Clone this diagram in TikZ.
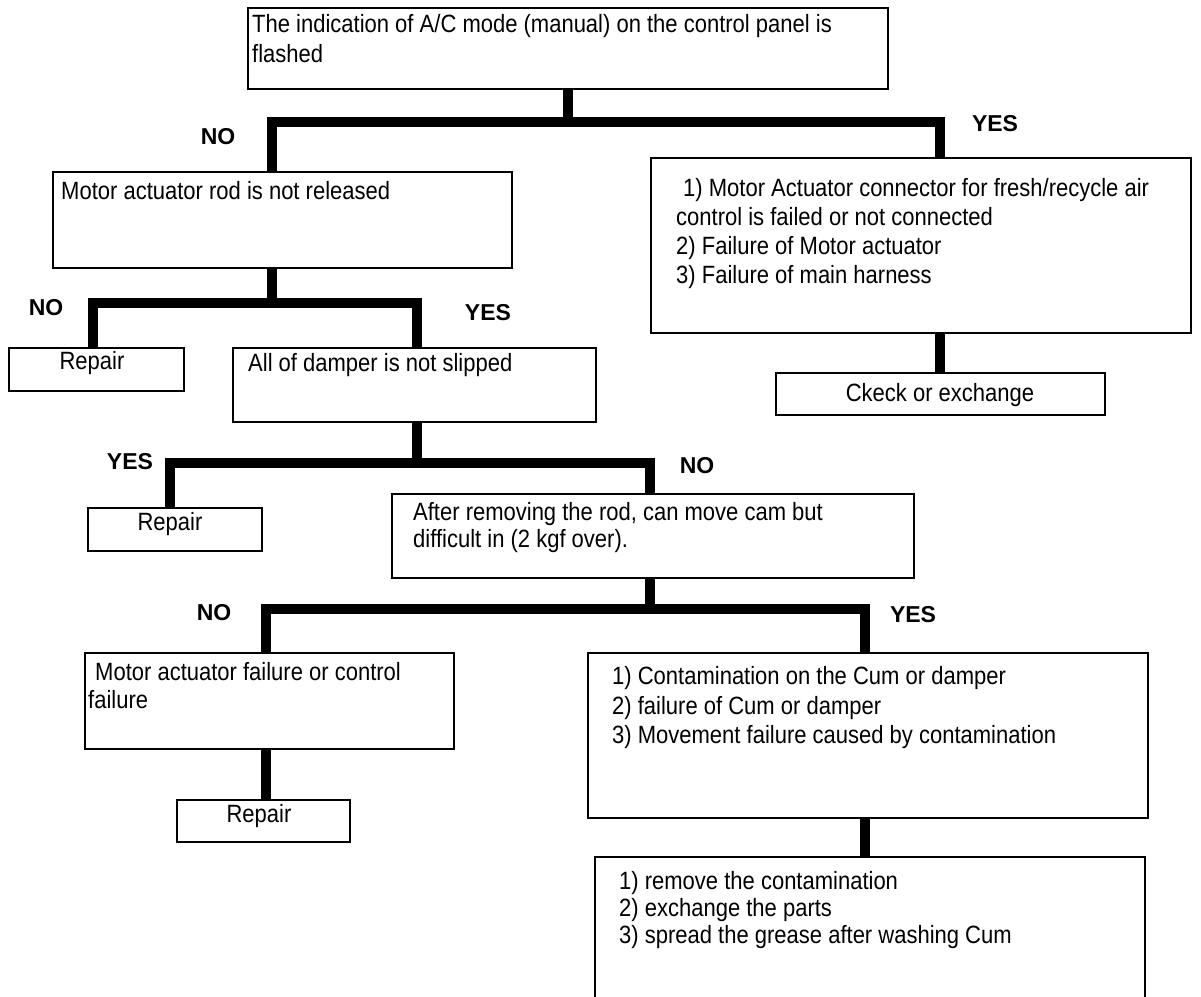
\documentclass[tikz,border=0pt]{standalone}
\usepackage{fontspec}
\setmainfont{Liberation Sans}
\newfontfamily\boxfont[FakeStretch=0.88]{Liberation Sans}

\begin{document}
\begin{tikzpicture}[
    x=1pt, y=-1pt,
    box/.style={draw, line width=2.2pt, anchor=north west, inner sep=0pt},
    txt/.style={anchor=north west, inner sep=0pt, align=left, font=\boxfont\fontsize{25}{29.5}\selectfont},
    mid/.style={txt, anchor=north, align=center},
    tag/.style={inner sep=0pt, font=\bfseries\fontsize{23}{26}\selectfont},
    link/.style={line width=10pt}
]
    \useasboundingbox (0,0) rectangle (1201,996);
    \clip (0,0) rectangle (1201,996);

    % Boxes
    \node[box, minimum width=640pt, minimum height=81pt] (flash) at (247,7) {};
    \node[box, minimum width=459pt, minimum height=96pt] (rodstuck) at (52,171) {};
    \node[box, minimum width=540pt, minimum height=175pt] (wiring) at (650,157) {};
    \node[box, minimum width=329pt, minimum height=42pt] (fix) at (775,372) {};
    \node[box, minimum width=175pt, minimum height=43pt] (repairA) at (8,347) {};
    \node[box, minimum width=363pt, minimum height=74pt] (damper) at (232,347) {};
    \node[box, minimum width=174pt, minimum height=43pt] (repairB) at (87,507) {};
    \node[box, minimum width=522pt, minimum height=84pt] (camhard) at (391,493) {};
    \node[box, minimum width=369pt, minimum height=96pt] (ctrlfail) at (84,652) {};
    \node[box, minimum width=173pt, minimum height=42pt] (repairC) at (176,799) {};
    \node[box, minimum width=560pt, minimum height=165pt] (dirt) at (587,652) {};
    \node[box, minimum width=550pt, minimum height=170pt] (clean) at (594,856) {};

    % Box texts
    \node[txt] (flashtxt) at (252,14.6) {The indication of A/C mode (manual) on the control panel is\\flashed};
    \node[txt] (rodtxt) at (61,181.6) {Motor actuator rod is not released};
    \node[txt, font=\boxfont\fontsize{25}{29}\selectfont] (wiringtxt) at (676,178.6) {\hspace*{7pt}1) Motor Actuator connector for fresh/recycle air\\control is failed or not connected\\2) Failure of Motor actuator\\3) Failure of main harness};
    \node[mid] (fixtxt) at (940,383.6) {Ckeck or exchange};
    \node[mid] (repairAtxt) at (92,351.1) {Repair};
    \node[txt] (dampertxt) at (248,353.6) {All of damper is not slipped};
    \node[mid] (repairBtxt) at (170,512.1) {Repair};
    \node[txt, font=\boxfont\fontsize{25}{27}\selectfont] (camtxt) at (413,502.6) {After removing the rod, can move cam but\\difficult in (2 kgf over).};
    \node[txt, font=\boxfont\fontsize{25}{28}\selectfont] (ctrltxt) at (88,662.6) {\hspace*{7pt}Motor actuator failure or control\\failure};
    \node[mid] (repairCtxt) at (259,804.1) {Repair};
    \node[txt] (dirttxt) at (612,666.6) {1) Contamination on the Cum or damper\\2) failure of Cum or damper\\3) Movement failure caused by contamination};
    \node[txt, font=\boxfont\fontsize{25}{27}\selectfont] (cleantxt) at (619,871.6) {1) remove the contamination\\2) exchange the parts\\3) spread the grease after washing Cum};

    % Branch corners
    \coordinate (l1) at (272,122);
    \coordinate (r1) at (940,122);
    \coordinate (l2) at (93,303);
    \coordinate (r2) at (417,303);
    \coordinate (l3) at (170,463);
    \coordinate (r3) at (650,463);
    \coordinate (l4) at (266,609);
    \coordinate (r4) at (865,609);

    % Connectors
    \draw[link] (flash.south) -- (flash.south |- l1);
    \draw[link] (l1 |- rodstuck.north) -- (l1) -- (r1) -- (r1 |- wiring.north);
    \draw[link] (r1 |- wiring.south) -- (r1 |- fix.north);
    \draw[link] (l1 |- rodstuck.south) -- (l1 |- l2);
    \draw[link] (l2 |- repairA.north) -- (l2) -- (r2) -- (r2 |- damper.north);
    \draw[link] (r2 |- damper.south) -- (r2 |- l3);
    \draw[link] (l3 |- repairB.north) -- (l3) -- (r3) -- (r3 |- camhard.north);
    \draw[link] (r3 |- camhard.south) -- (r3 |- l4);
    \draw[link] (l4 |- ctrlfail.north) -- (l4) -- (r4) -- (r4 |- dirt.north);
    \draw[link] (l4 |- ctrlfail.south) -- (l4 |- repairC.north);
    \draw[link] (r4 |- dirt.south) -- (r4 |- clean.north);

    % Branch tags
    \node[tag] (no1) at (218,137) {NO};
    \node[tag] (yes1) at (995,124) {YES};
    \node[tag] (no2) at (46,308) {NO};
    \node[tag] (yes2) at (488,313) {YES};
    \node[tag] (yes3) at (130,462) {YES};
    \node[tag] (no3) at (697,466) {NO};
    \node[tag] (no4) at (214,613) {NO};
    \node[tag] (yes4) at (913,615) {YES};
\end{tikzpicture}
\end{document}
